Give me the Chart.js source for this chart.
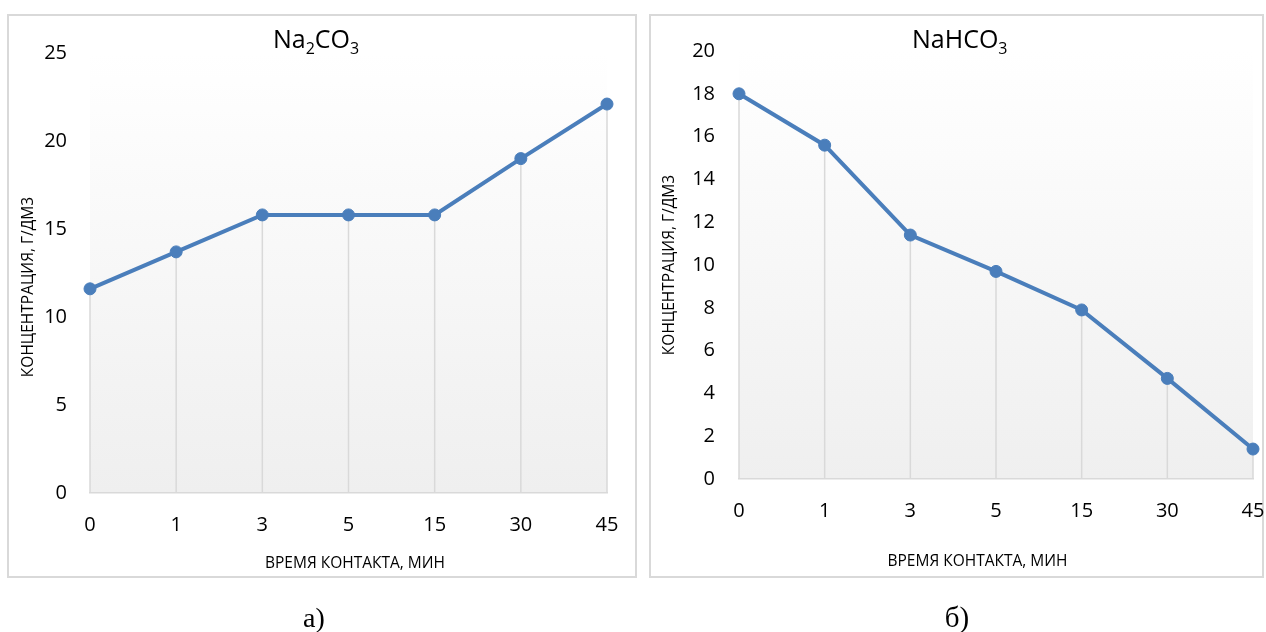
<!DOCTYPE html>
<html><head><meta charset="utf-8">
<script src="https://cdn.jsdelivr.net/npm/chart.js@4.4.1/dist/chart.umd.min.js"></script>
<style>
html,body{margin:0;padding:0;background:#fff}
body{width:1266px;height:632px;position:relative;overflow:hidden}
.box{position:absolute;border:2px solid #d9d9d9;box-sizing:border-box}
canvas{position:absolute;top:0}
</style></head><body>
<div class="box" style="left:7px;top:14px;width:630px;height:564px"></div>
<div class="box" style="left:649px;top:14px;width:615px;height:564px"></div>
<canvas id="ca" width="643" height="632" style="left:0"></canvas>
<canvas id="cb" width="623" height="632" style="left:643px"></canvas>
<script>
// ---- data ----
const categories = ['0', '1', '3', '5', '15', '30', '45'];
const na2co3 = [11.6, 13.7, 15.8, 15.8, 15.8, 19.0, 22.1];
const nahco3 = [18.0, 15.6, 11.4, 9.7, 7.9, 4.7, 1.4];
const yMaxA = 25, yStepA = 5;
const yMaxB = 20, yStepB = 2;
const titleA = [['Na', false], ['2', true], ['CO', false], ['3', true]];
const titleB = [['NaHCO', false], ['3', true]];
const xTitle = 'ВРЕМЯ КОНТАКТА, МИН';
const yTitle = 'КОНЦЕНТРАЦИЯ, Г/ДМ3';
const capA = 'а)', capB = 'б)';

const FONT = "'Open Sans', sans-serif";
const LINE = '#4a7ebb';

const deco = {
  id: 'deco',
  beforeDraw(chart) {
    const {ctx, chartArea: a} = chart;
    const g = ctx.createLinearGradient(0, a.top, 0, a.bottom);
    g.addColorStop(0, '#ffffff');
    g.addColorStop(1, '#efefef');
    ctx.save();
    ctx.fillStyle = g;
    ctx.fillRect(a.left, a.top, a.right - a.left, a.bottom - a.top);
    ctx.restore();
  },
  beforeDatasetsDraw(chart) {
    const {ctx, chartArea: a} = chart;
    const meta = chart.getDatasetMeta(0);
    ctx.save();
    ctx.strokeStyle = '#d9d9d9';
    ctx.lineWidth = 1.5;
    meta.data.forEach(p => {
      ctx.beginPath();
      ctx.moveTo(p.x, p.y);
      ctx.lineTo(p.x, a.bottom);
      ctx.stroke();
    });
    ctx.restore();
  },
  afterDraw(chart, args, o) {
    const ctx = chart.ctx;
    ctx.save();
    ctx.fillStyle = '#000';
    ctx.textBaseline = 'alphabetic';
    let x = o.titleX;
    o.title.forEach(([t, sub]) => {
      ctx.font = (sub ? '16px ' : '25px ') + FONT;
      ctx.fillText(t, x, o.titleY + (sub ? 6 : 0));
      x += ctx.measureText(t).width;
    });
    ctx.font = '15.5px ' + FONT;
    ctx.textAlign = 'center';
    ctx.fillText(xTitle, o.xtX, o.xtY);
    ctx.save();
    ctx.translate(o.ytX, o.ytY);
    ctx.rotate(-Math.PI / 2);
    ctx.fillText(yTitle, 0, 0);
    ctx.restore();
    ctx.font = o.capSize + 'px "Liberation Serif", serif';
    ctx.fillText(o.cap, o.capX, o.capY);
    ctx.restore();
  }
};

function make(id, data, yMax, yStep, L) {
  return new Chart(document.getElementById(id), {
    type: 'line',
    data: {
      labels: categories,
      datasets: [{
        data: data,
        borderColor: LINE,
        backgroundColor: LINE,
        borderWidth: 4,
        pointRadius: 6,
        pointBorderWidth: 1,
        pointBackgroundColor: LINE,
        pointBorderColor: LINE,
        tension: 0,
        fill: false
      }]
    },
    options: {
      responsive: false,
      animation: false,
      events: [],
      layout: {padding: {left: 0, right: L.padR, top: L.top, bottom: L.padB}},
      plugins: {
        legend: {display: false},
        tooltip: {enabled: false},
        title: {display: false},
        deco: L.deco
      },
      scales: {
        x: {
          type: 'category',
          offset: false,
          grid: {display: false, drawTicks: false},
          border: {display: true, color: '#d9d9d9', width: 1.5},
          ticks: {color: '#000', font: {family: FONT, size: 20}, padding: L.xPad, maxRotation: 0, autoSkip: false},
          afterFit: s => { s.height = 40; s.paddingLeft = 0; s.paddingRight = 0; }
        },
        y: {
          min: 0, max: yMax,
          grid: {display: false, drawTicks: false},
          border: {display: false},
          ticks: {stepSize: yStep, color: '#000', font: {family: FONT, size: 20}, padding: L.yPad},
          afterFit: s => { s.width = L.yW; s.paddingTop = 0; s.paddingBottom = 0; }
        }
      }
    },
    plugins: [deco]
  });
}

make('ca', na2co3, yMaxA, yStepA, {
  padR: 36, top: 53, padB: 632 - 493 - 40, yW: 90, yPad: 23, xPad: 20,
  deco: {title: titleA, titleX: 273, titleY: 47.5, xtX: 355, xtY: 567.5, ytX: 33, ytY: 287, cap: capA, capX: 314, capY: 627, capSize: 28}
});
make('cb', nahco3, yMaxB, yStepB, {
  padR: 13, top: 51, padB: 632 - 479 - 40, yW: 96, yPad: 24, xPad: 20,
  deco: {title: titleB, titleX: 912 - 643, titleY: 47.5, xtX: 977.5 - 643, xtY: 565.5, ytX: 673.5 - 643, ytY: 265, cap: capB, capX: 957 - 643, capY: 627, capSize: 29}
});
</script>
</body></html>
